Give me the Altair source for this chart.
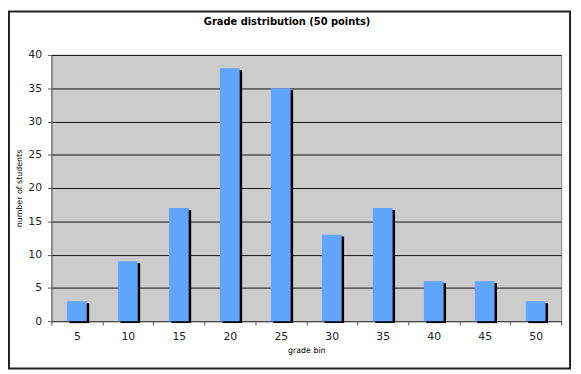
import altair as alt
import pandas as pd

bins = ["5", "10", "15", "20", "25", "30", "35", "40", "45", "50"]
counts = [3, 9, 17, 38, 35, 13, 17, 6, 6, 3]
y_ticks = [0, 5, 10, 15, 20, 25, 30, 35, 40]
title_text = "Grade distribution (50 points)"
x_title = "grade bin"
y_title = "number of students"

df = pd.DataFrame({"bin": bins, "count": counts})
one = pd.DataFrame({"k": [0]})

FONT = "DejaVu Sans"

x_enc = alt.X(
    "bin:O",
    sort=bins,
    scale=alt.Scale(paddingInner=0, paddingOuter=0),
    axis=alt.Axis(
        title=x_title,
        labelAngle=0,
        tickBand="extent",
        tickSize=4,
        tickColor="#555555",
        domainColor="#555555",
        labelFont=FONT,
        labelFontSize=11,
        labelColor="#222222",
        labelPadding=6,
        titleFont=FONT,
        titleFontSize=8,
        titleFontWeight="normal",
        titleColor="#000000",
        titleX=258.5,
        titleY=30,
        titleBaseline="middle",
    ),
)

y_enc = alt.Y(
    "count:Q",
    scale=alt.Scale(domain=[0, 40], nice=False),
    axis=alt.Axis(
        title=y_title,
        values=y_ticks,
        grid=True,
        gridColor="#111111",
        gridOpacity=1,
        gridWidth=1,
        tickSize=4,
        tickColor="#555555",
        domainColor="#666666",
        labelFont=FONT,
        labelFontSize=11,
        labelColor="#222222",
        labelPadding=6,
        titleFont=FONT,
        titleFontSize=8,
        titleFontWeight="normal",
        titleColor="#000000",
        titleX=-32,
        titleY=135,
        titleAngle=-90,
        titleBaseline="middle",
        titleAlign="center",
    ),
)

shadow = alt.Chart(df).mark_bar(
    color="#000000", size=20, xOffset=2.5, yOffset=2, y2Offset=0
).encode(x=x_enc, y=y_enc)

bars = alt.Chart(df).mark_bar(color="#60a5ff", size=20).encode(x=x_enc, y=y_enc)

border = alt.Chart(one).mark_rect(
    filled=False, stroke="#222222", strokeWidth=2
).encode(
    x=alt.value(-43),
    x2=alt.value(526),
    y=alt.value(-44),
    y2=alt.value(318),
)

title = alt.Chart(one).mark_text(
    text=title_text,
    font=FONT,
    fontSize=10,
    fontWeight="bold",
    color="#000000",
    align="center",
    baseline="middle",
).encode(x=alt.value(239), y=alt.value(-33))

chart = (
    alt.layer(shadow, bars, border, title)
    .properties(
        width=517,
        height=270,
        autosize="none",
        padding={"left": 44, "top": 45, "right": 12, "bottom": 50},
        background="#ffffff",
    )
    .configure_view(stroke="#888888", strokeWidth=1, fill="#cccccc")
)

chart.save("out.html", embed_options={"renderer": "svg", "actions": False})
